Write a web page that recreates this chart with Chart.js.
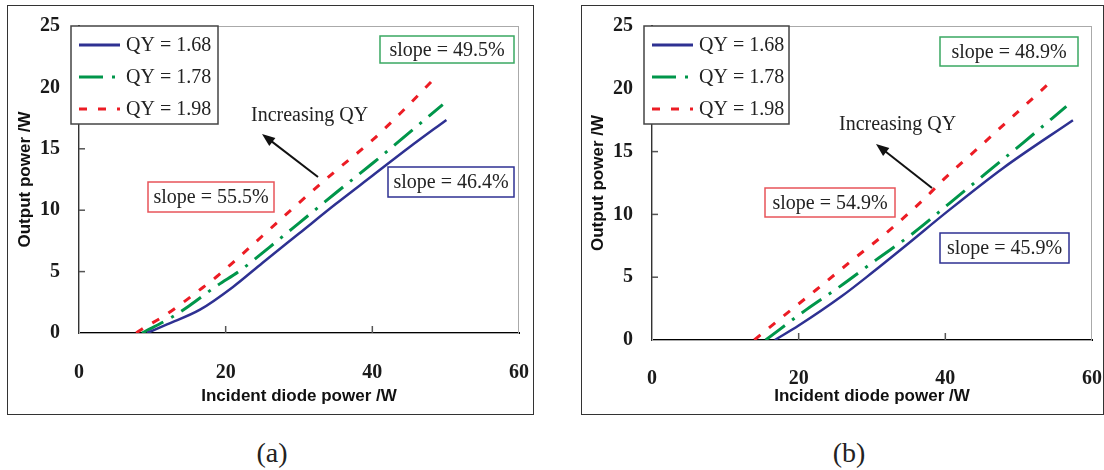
<!DOCTYPE html>
<html lang="en">
<head>
<meta charset="UTF-8">
<title>Output power vs incident diode power</title>
<script src="https://cdn.jsdelivr.net/npm/chart.js"></script>
<style>
  body { margin: 0; background: #fff; }
  #page { position: relative; width: 1104px; height: 470px; overflow: hidden; }
  .frame { position: absolute; box-sizing: border-box; border: 1.5px solid #333; }
  canvas { position: absolute; }
  .cap { position: absolute; transform: translate(-50%, -50%); font-family: "Liberation Serif", serif; font-size: 28px; color: #222; }
</style>
</head>
<body>
<div id="page">
  <div class="frame" style="left:7px;top:5px;width:527px;height:410px"></div>
  <div class="frame" style="left:581px;top:5px;width:523px;height:410px"></div>
  <canvas id="chartA" width="522" height="406" style="left:9px;top:7px"></canvas>
  <canvas id="chartB" width="518" height="406" style="left:584px;top:7px"></canvas>
  <div class="cap" style="left:272px;top:453px">(a)</div>
  <div class="cap" style="left:849px;top:453px">(b)</div>
</div>

<script>
// series names and axis ticks
var seriesLabels = ['QY = 1.68', 'QY = 1.78', 'QY = 1.98'];
var xTicks = [0, 20, 40, 60];
var yTicks = [0, 5, 10, 15, 20, 25];

// panel (a)
var a168x = [9.3, 12, 16.5, 21, 25, 30, 35, 40, 45, 50.1];
var a168y = [0, 0.7, 1.9, 3.75, 5.7, 8.1, 10.5, 12.8, 15.1, 17.35];
var a178x = [8.6, 12.7, 15, 18.8, 22, 26, 30, 35, 40, 45, 49.6];
var a178y = [0, 1.3, 2.2, 3.85, 5.1, 7.0, 8.95, 11.4, 13.8, 16.3, 18.6];
var a198x = [7.8, 8.8, 11.5, 14, 16.1, 18.8, 21.1, 25, 30, 35, 40, 44, 48.6];
var a198y = [0, 0.4, 1.35, 2.4, 3.35, 4.6, 5.8, 7.9, 10.6, 13.2, 15.7, 18.0, 20.8];
var slopesA = ['46.4%', '49.5%', '55.5%'];

// panel (b)
var b168x = [16.75, 20, 25.9, 30, 35, 40, 47.9, 57.4];
var b168y = [0, 1.15, 3.5, 5.35, 7.7, 10.1, 13.7, 17.5];
var b178x = [15.5, 21, 25.6, 30.6, 35.6, 40.6, 45.6, 50.6, 56.5];
var b178y = [0, 2.4, 4.25, 6.4, 8.5, 10.9, 13.3, 15.7, 18.6];
var b198x = [13.95, 17.6, 22.4, 27.4, 32.4, 37.4, 39.7, 44.7, 49.2, 52.4, 54.7];
var b198y = [0, 1.75, 4.0, 6.4, 8.75, 11.4, 12.75, 15.4, 17.8, 19.5, 20.75];
var slopesB = ['45.9%', '48.9%', '54.9%'];

var colors = ['#2e3192', '#00964a', '#ec1c24'];
var boxColors = ['#2e3192', '#3aa862', '#e8545a'];
var dashes = [[], [24, 9, 3, 9], [8, 11]];
var widths = [2.5, 3, 3];
var serif = '"Liberation Serif", "Times New Roman", serif';
var sans = '"Liberation Sans", Arial, sans-serif';

function pts(xs, ys) {
    return xs.map(function (x, i) { return { x: x, y: ys[i] }; });
}

function line(ctx, x1, y1, x2, y2) {
    ctx.beginPath();
    ctx.moveTo(x1, y1);
    ctx.lineTo(x2, y2);
    ctx.stroke();
}

// drop the label overflow padding so layout.padding alone sets the plot area
function noPad(s) {
    s.paddingTop = 0;
    s.paddingBottom = 0;
    s.paddingLeft = 0;
    s.paddingRight = 0;
}

// frame, inner tick marks, legend box and the slope notes
function decorPlugin(cfg) {
    return {
        id: 'decor',
        beforeDatasetsDraw: function (chart) {
            var ctx = chart.ctx, a = chart.chartArea, sx = chart.scales.x, sy = chart.scales.y;
            ctx.save();
            ctx.strokeStyle = '#aaa';
            ctx.lineWidth = 1;
            ctx.strokeRect(a.left + 0.5, a.top + 0.5, a.right - a.left - 1, a.bottom - a.top);
            ctx.strokeStyle = '#555';
            ctx.lineWidth = 1.5;
            sy.ticks.forEach(function (t) {
                if (t.value > sy.min && t.value < sy.max) {
                    var py = sy.getPixelForValue(t.value);
                    line(ctx, a.left, py, a.left + 6, py);
                }
            });
            sx.ticks.forEach(function (t) {
                if (t.value > sx.min && t.value < sx.max) {
                    var px = sx.getPixelForValue(t.value);
                    line(ctx, px, a.bottom, px, a.bottom - 7);
                }
            });
            ctx.restore();
        },
        afterDraw: function (chart) {
            var ctx = chart.ctx, lg = cfg.legend;
            ctx.save();

            // legend
            ctx.fillStyle = '#fff';
            ctx.fillRect(lg.x, lg.y, lg.w, lg.h);
            ctx.strokeStyle = '#444';
            ctx.lineWidth = 1.5;
            ctx.strokeRect(lg.x, lg.y, lg.w, lg.h);
            ctx.font = '20px ' + serif;
            ctx.textBaseline = 'middle';
            chart.data.datasets.forEach(function (ds, i) {
                var ry = lg.y + 19 + i * 32;
                ctx.setLineDash(ds.borderDash || []);
                ctx.strokeStyle = ds.borderColor;
                ctx.lineWidth = 3;
                line(ctx, lg.x + 8, ry, lg.x + 49, ry);
                ctx.setLineDash([]);
                ctx.fillStyle = '#222';
                ctx.textAlign = 'left';
                ctx.fillText(ds.label, lg.x + 55, ry + 1);
            });

            // slope boxes
            cfg.boxes.forEach(function (b, i) {
                ctx.strokeStyle = boxColors[i];
                ctx.lineWidth = 1.5;
                ctx.strokeRect(b.x, b.y, b.w, b.h);
                ctx.fillStyle = '#222';
                ctx.textAlign = 'center';
                ctx.fillText('slope = ' + cfg.slopes[i], b.x + b.w / 2, b.y + b.h / 2 + 1);
            });

            // increasing QY note and arrow
            ctx.textAlign = 'left';
            ctx.fillText('Increasing QY', cfg.note.x, cfg.note.y);
            var t = cfg.arrow.tail, h = cfg.arrow.head;
            var ang = Math.atan2(h[1] - t[1], h[0] - t[0]);
            ctx.strokeStyle = '#111';
            ctx.fillStyle = '#111';
            ctx.lineWidth = 2;
            line(ctx, t[0], t[1], h[0] - 8 * Math.cos(ang), h[1] - 8 * Math.sin(ang));
            ctx.beginPath();
            ctx.moveTo(h[0], h[1]);
            ctx.lineTo(h[0] - 13 * Math.cos(ang) + 5 * Math.sin(ang), h[1] - 13 * Math.sin(ang) - 5 * Math.cos(ang));
            ctx.lineTo(h[0] - 13 * Math.cos(ang) - 5 * Math.sin(ang), h[1] - 13 * Math.sin(ang) + 5 * Math.cos(ang));
            ctx.closePath();
            ctx.fill();
            ctx.restore();
        }
    };
}

function makeChart(id, series, cfg) {
    var datasets = series.map(function (s, i) {
        return {
            label: seriesLabels[i],
            data: pts(s[0], s[1]),
            borderColor: colors[i],
            borderWidth: widths[i],
            borderDash: dashes[i],
            borderCapStyle: 'butt',
            pointRadius: 0,
            fill: false,
            cubicInterpolationMode: 'monotone'
        };
    });
    var ctx = document.getElementById(id).getContext('2d');
    return new Chart(ctx, {
        type: 'line',
        data: { datasets: datasets },
        options: {
            responsive: false,
            animation: false,
            events: [],
            layout: { padding: { top: 19, right: cfg.rightPad, bottom: 0, left: 0 } },
            plugins: { legend: { display: false }, tooltip: { enabled: false } },
            scales: {
                x: {
                    type: 'linear',
                    min: xTicks[0],
                    max: xTicks[xTicks.length - 1],
                    afterBuildTicks: function (s) { s.ticks = xTicks.map(function (v) { return { value: v }; }); },
                    afterFit: function (s) { s.height = cfg.xHeight; noPad(s); },
                    grid: { drawOnChartArea: false, drawTicks: false },
                    border: { color: '#000', width: 2 },
                    ticks: {
                        padding: cfg.xTickPad,
                        maxRotation: 0,
                        autoSkip: false,
                        color: '#1a1a1a',
                        font: { family: serif, size: 20, weight: 'bold' }
                    },
                    title: {
                        display: true,
                        text: 'Incident diode power /W',
                        color: '#111',
                        padding: { top: 0, bottom: 6 },
                        font: { family: sans, size: 17, weight: 'bold' }
                    }
                },
                y: {
                    min: yTicks[0],
                    max: yTicks[yTicks.length - 1],
                    afterBuildTicks: function (s) { s.ticks = yTicks.map(function (v) { return { value: v }; }); },
                    afterFit: function (s) { s.width = cfg.plotLeft; noPad(s); },
                    grid: { drawOnChartArea: false, drawTicks: false },
                    border: { color: '#333', width: 2 },
                    ticks: {
                        padding: 19,
                        color: '#1a1a1a',
                        font: { family: serif, size: 20, weight: 'bold' }
                    },
                    title: {
                        display: true,
                        text: 'Output power /W',
                        color: '#111',
                        padding: { top: cfg.yTitlePad, bottom: 0 },
                        font: { family: sans, size: 17, weight: 'bold' }
                    }
                }
            }
        },
        plugins: [decorPlugin(cfg)]
    });
}

makeChart('chartA', [[a168x, a168y], [a178x, a178y], [a198x, a198y]], {
    plotLeft: 70, rightPad: 12, xHeight: 80, xTickPad: 28, yTitlePad: 6,
    slopes: slopesA,
    legend: { x: 62, y: 19, w: 147, h: 98 },
    boxes: [
        { x: 379, y: 160, w: 126, h: 30 },
        { x: 371, y: 29, w: 134, h: 27 },
        { x: 139, y: 175, w: 126, h: 30 }
    ],
    note: { x: 242, y: 109 },
    arrow: { tail: [309, 170], head: [253, 127] }
});

makeChart('chartB', [[b168x, b168y], [b178x, b178y], [b198x, b198y]], {
    plotLeft: 68, rightPad: 10, xHeight: 73, xTickPad: 27, yTitlePad: 4,
    slopes: slopesB,
    legend: { x: 60, y: 19, w: 145, h: 98 },
    boxes: [
        { x: 356, y: 226, w: 129, h: 30 },
        { x: 356, y: 30, w: 138, h: 29 },
        { x: 181, y: 181, w: 130, h: 29 }
    ],
    note: { x: 255, y: 118 },
    arrow: { tail: [348, 181], head: [292, 137] }
});
</script>
</body>
</html>
